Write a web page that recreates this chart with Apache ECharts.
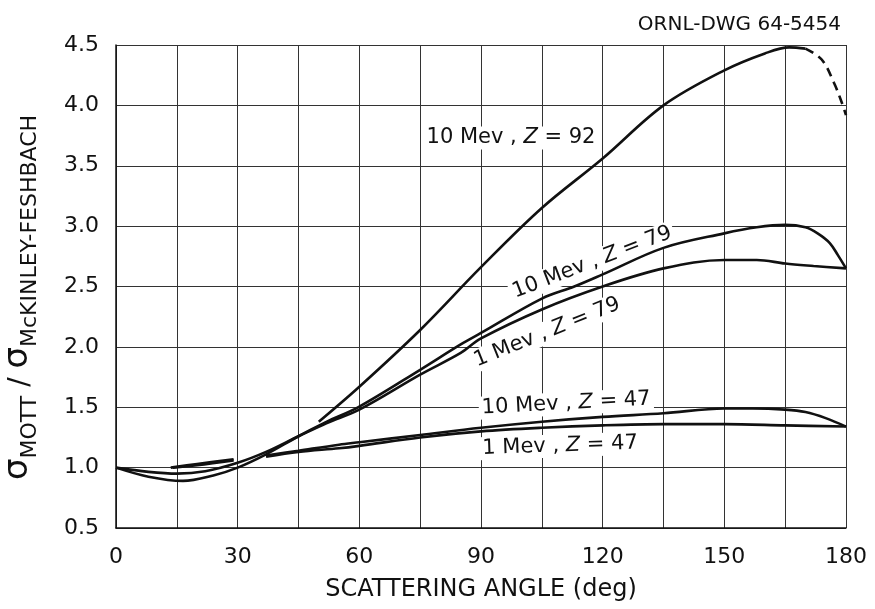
<!DOCTYPE html>
<html>
<head>
<meta charset="utf-8">
<script src="https://cdn.jsdelivr.net/npm/echarts@6/dist/echarts.min.js"></script>
<style>
  html, body { margin: 0; background: #fff; }
  #main { width: 875px; height: 609px; }
</style>
</head>
<body>
<div id="main"></div>
<script>
const z92Angle = [50, 60, 75, 90, 105, 120, 135, 150, 160, 166, 170];
const z92Ratio = [1.38, 1.67, 2.14, 2.66, 3.15, 3.56, 4.0, 4.29, 4.43, 4.48, 4.47];
// dashed tail of the Z = 92 curve
const z92TailAngle = [170, 174, 177, 179, 180];
const z92TailRatio = [4.47, 4.38, 4.19, 4.02, 3.92];

const z79HiAngle = [0, 8, 16.5, 24, 30, 37, 45, 52, 60, 75, 85, 90, 105, 113, 120, 135, 150, 158, 165, 170, 173, 176, 178, 180];
const z79HiRatio = [1.0, 0.925, 0.89, 0.935, 1.0, 1.11, 1.26, 1.38, 1.505, 1.81, 2.02, 2.115, 2.40, 2.50, 2.60, 2.82, 2.94, 2.99, 3.01, 2.99, 2.94, 2.86, 2.76, 2.65];

const z79LoAngle = [0, 8, 15, 22, 30, 37, 45, 52, 60, 75, 85, 90, 105, 120, 135, 150, 158, 165, 172, 180];
const z79LoRatio = [1.0, 0.965, 0.95, 0.97, 1.04, 1.13, 1.26, 1.37, 1.48, 1.77, 1.95, 2.07, 2.31, 2.50, 2.65, 2.72, 2.72, 2.69, 2.67, 2.65];

// Z = 47 curves are broken between 29 and 37 deg where they cross the Z = 79 curves
const z47HiAngle = [13.5, 20, 29, 33, 37, 45, 55, 60, 75, 90, 105, 120, 135, 150, 157, 165, 170, 175, 180];
const z47HiRatio = [1.0, 1.03, 1.07, null, 1.10, 1.14, 1.19, 1.21, 1.27, 1.33, 1.38, 1.42, 1.45, 1.49, 1.49, 1.48, 1.46, 1.41, 1.34];

const z47LoAngle = [14, 20, 29, 33, 37, 45, 55, 60, 75, 90, 105, 120, 135, 150, 165, 180];
const z47LoRatio = [1.0, 1.02, 1.06, null, 1.09, 1.13, 1.16, 1.18, 1.25, 1.30, 1.33, 1.35, 1.36, 1.36, 1.35, 1.34];

const xTicks = [0, 30, 60, 90, 120, 150, 180];
const yTicks = [0.5, 1.0, 1.5, 2.0, 2.5, 3.0, 3.5, 4.0, 4.5];

// curve annotations: [angle, ratio, tilt, energy, Z]
const notes = [
  [97.4, 3.73, 0, '10 Mev', '92'],
  [117.4, 2.70, 21, '10 Mev', '79'],
  [106.3, 2.12, 22, '1 Mev', '79'],
  [111.0, 1.53, 3, '10 Mev', '47'],
  [109.5, 1.18, 2, '1 Mev', '47']
];

const FONT = 'DejaVu Sans';
const INK = '#111';

const pairs = (xs, ys) => xs.map((x, i) => [x, ys[i] == null ? '-' : ys[i]]);

const curve = (data, dashed) => ({
  type: 'line',
  data: data,
  symbol: 'none',
  smooth: 0.35,
  connectNulls: false,
  z: 3,
  lineStyle: { color: INK, width: 2.6, type: dashed ? [9, 6] : 'solid' }
});

const gridLine = { color: '#333', width: 1 };

const chart = echarts.init(document.getElementById('main'));

chart.setOption({
  backgroundColor: '#fff',
  animation: false,
  title: {
    text: 'ORNL-DWG 64-5454',
    right: 29,
    top: 10,
    textStyle: { fontFamily: FONT, fontSize: 20, fontWeight: 'normal', color: INK }
  },
  grid: { left: 116, right: 29, top: 45, bottom: 81, outerBoundsMode: 'none' },
  xAxis: {
    type: 'value',
    min: 0,
    max: 180,
    interval: 30,
    name: 'SCATTERING ANGLE (deg)',
    nameLocation: 'middle',
    nameGap: 50,
    nameTextStyle: { fontFamily: FONT, fontSize: 24, color: INK },
    axisLine: { lineStyle: { color: INK, width: 1.5 } },
    axisTick: { show: false },
    minorTick: { show: false, splitNumber: 2 },
    minorSplitLine: { show: true, lineStyle: gridLine },
    splitLine: { show: true, lineStyle: gridLine },
    axisLabel: {
      fontFamily: FONT, fontSize: 22, color: INK, margin: 18,
      formatter: v => xTicks.includes(v) ? String(v) : ''
    }
  },
  yAxis: {
    type: 'value',
    min: 0.5,
    max: 4.5,
    interval: 0.5,
    name: '{s|σ}{b|MOTT}{m| / }{s|σ}{b|McKINLEY-FESHBACH}',
    nameLocation: 'middle',
    nameRotate: 90,
    nameGap: 75,
    nameTextStyle: {
      color: INK,
      padding: [0, 22, 0, 0],
      rich: {
        s: { fontFamily: FONT, fontSize: 34, color: INK, verticalAlign: 'bottom', lineHeight: 40, padding: [0, 0, 6, 0] },
        m: { fontFamily: FONT, fontSize: 28, color: INK, verticalAlign: 'bottom', lineHeight: 40, padding: [0, 0, 6, 0] },
        b: { fontFamily: FONT, fontSize: 22, color: INK, verticalAlign: 'bottom', lineHeight: 22 }
      }
    },
    axisLine: { show: true, lineStyle: { color: INK, width: 1.5 } },
    axisTick: { show: false },
    splitLine: { show: true, lineStyle: gridLine },
    axisLabel: {
      fontFamily: FONT, fontSize: 22, color: INK, margin: 17,
      formatter: v => yTicks.some(t => Math.abs(t - v) < 1e-9) ? v.toFixed(1) : ''
    }
  },
  series: [
    curve(pairs(z92Angle, z92Ratio), false),
    curve(pairs(z92TailAngle, z92TailRatio), true),
    curve(pairs(z79HiAngle, z79HiRatio), false),
    curve(pairs(z79LoAngle, z79LoRatio), false),
    curve(pairs(z47HiAngle, z47HiRatio), false),
    curve(pairs(z47LoAngle, z47LoRatio), false),
    {
      type: 'scatter',
      symbolSize: 0,
      z: 1,
      silent: true,
      itemStyle: { opacity: 1 },
      data: notes.map(n => ({
        value: [n[0], n[1]],
        label: {
          show: true,
          position: 'inside',
          rotate: n[2],
          color: INK,
          formatter: '{t|' + n[3] + ' , }{i|Z}{t| = ' + n[4] + '}',
          backgroundColor: '#fff',
          padding: [1, 3],
          rich: {
            t: { fontFamily: FONT, fontSize: 21, color: INK },
            i: { fontFamily: FONT, fontSize: 21, color: INK, fontStyle: 'italic' }
          }
        }
      }))
    }
  ]
});
</script>
</body>
</html>
